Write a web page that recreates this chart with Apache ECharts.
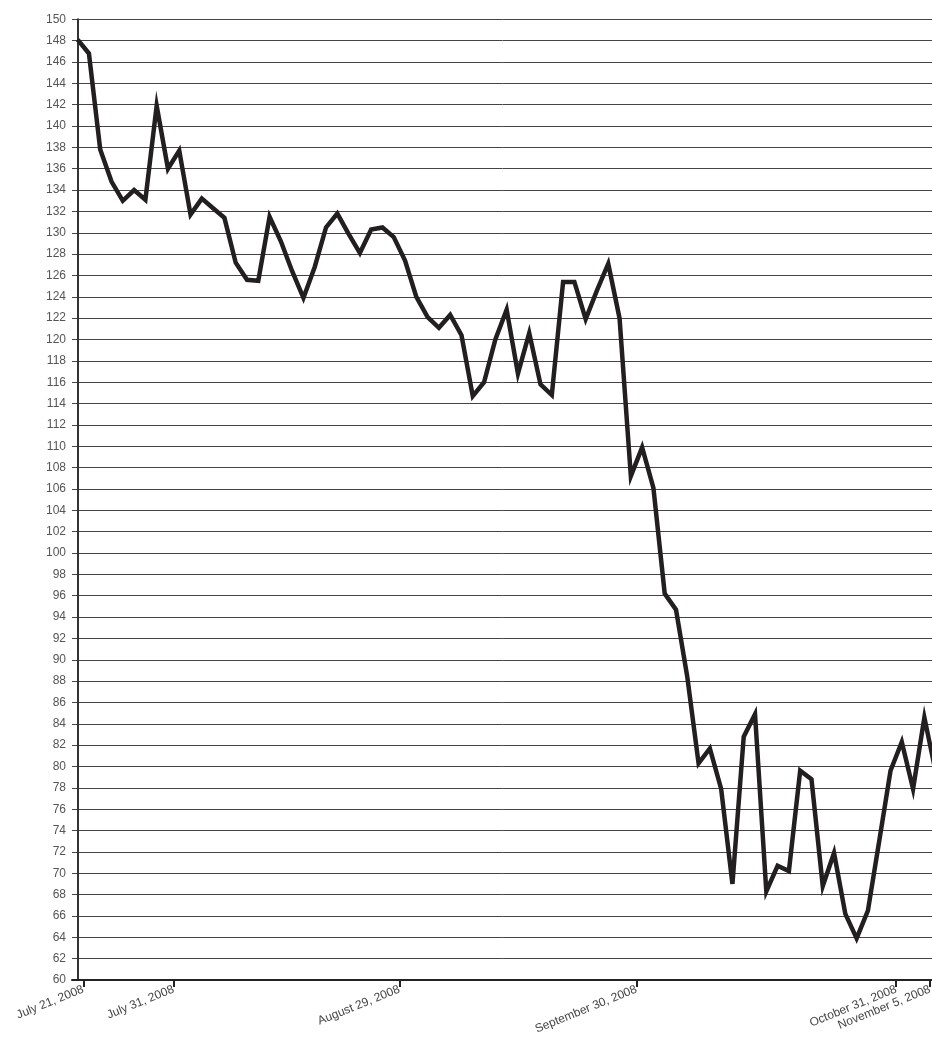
<!DOCTYPE html>
<html>
<head>
<meta charset="utf-8">
<script src="https://cdn.jsdelivr.net/npm/echarts@6/dist/echarts.min.js"></script>
<style>
html,body{margin:0;padding:0;background:#fff;}
#chart{width:932px;height:1038px;}
</style>
</head>
<body>
<div id="chart"></div>
<script>
// Trading-day index of each point (0 = July 21, 2008)
const values = [
  148.1, 146.8, 137.8, 134.8, 133.0, 134.0, 133.1, 141.9, 136.0, 137.7,
  131.7, 133.2, 132.3, 131.4, 127.2, 125.6, 125.5, 131.5, 129.2, 126.4,
  123.9, 126.8, 130.5, 131.8, 129.9, 128.1, 130.3, 130.5, 129.6, 127.4,
  124.0, 122.1, 121.1, 122.3, 120.4, 114.7, 116.0, 120.0, 122.8, 116.8,
  120.6, 115.8, 114.8, 125.4, 125.4, 121.9, 124.6, 127.1, 122.0, 107.2,
  109.9, 106.1, 96.2, 94.7, 88.4, 80.3, 81.7, 77.9, 69.0, 82.8,
  84.9, 68.3, 70.7, 70.2, 79.6, 78.8, 68.8, 71.9, 66.2, 63.9,
  66.5, 73.0, 79.6, 82.3, 77.9, 84.6, 79.5
];
const tickLabels = ["July 21, 2008", "July 31, 2008", "August 29, 2008", "September 30, 2008", "October 31, 2008", "November 5, 2008"];
const tickDayIndex = [0, 8, 28, 49, 72, 75];

const tickValues = tickDayIndex.map(i => i + 0.5);
const labelMap = {};
tickValues.forEach((v, k) => { labelMap[v.toFixed(1)] = tickLabels[k]; });
const seriesData = values.map((v, i) => [i, v]);

const chart = echarts.init(document.getElementById('chart'), null, {renderer: 'canvas'});
chart.setOption({
  animation: false,
  backgroundColor: '#ffffff',
  textStyle: {fontFamily: '"Liberation Sans", Arial, Helvetica, sans-serif'},
  grid: {left: 72, right: -9.3, top: 19.3, bottom: 58, containLabel: false, outerBoundsMode: 'none'},
  xAxis: {
    type: 'value',
    min: -0.5,
    max: 76.5,
    splitLine: {show: false},
    axisLine: {show: true, onZero: false, lineStyle: {color: '#222', width: 2}},
    axisTick: {show: true, customValues: tickValues, length: 7, lineStyle: {color: '#222', width: 2}},
    axisLabel: {
      show: true,
      customValues: tickValues,
      rotate: 22,
      margin: 9,
      fontSize: 12,
      color: '#444',
      formatter: v => labelMap[Number(v).toFixed(1)] || ''
    }
  },
  yAxis: {
    type: 'value',
    min: 60,
    max: 150,
    interval: 2,
    axisLine: {show: true, lineStyle: {color: '#333', width: 2}},
    axisTick: {show: false},
    axisLabel: {fontSize: 12, color: '#555', margin: 6},
    splitLine: {show: true, lineStyle: {color: '#444', width: 1}}
  },
  series: [{
    type: 'line',
    data: seriesData,
    showSymbol: false,
    symbol: 'none',
    lineStyle: {color: '#231f20', width: 4.5, join: 'miter', cap: 'butt'},
    z: 3
  }]
});
</script>
</body>
</html>
